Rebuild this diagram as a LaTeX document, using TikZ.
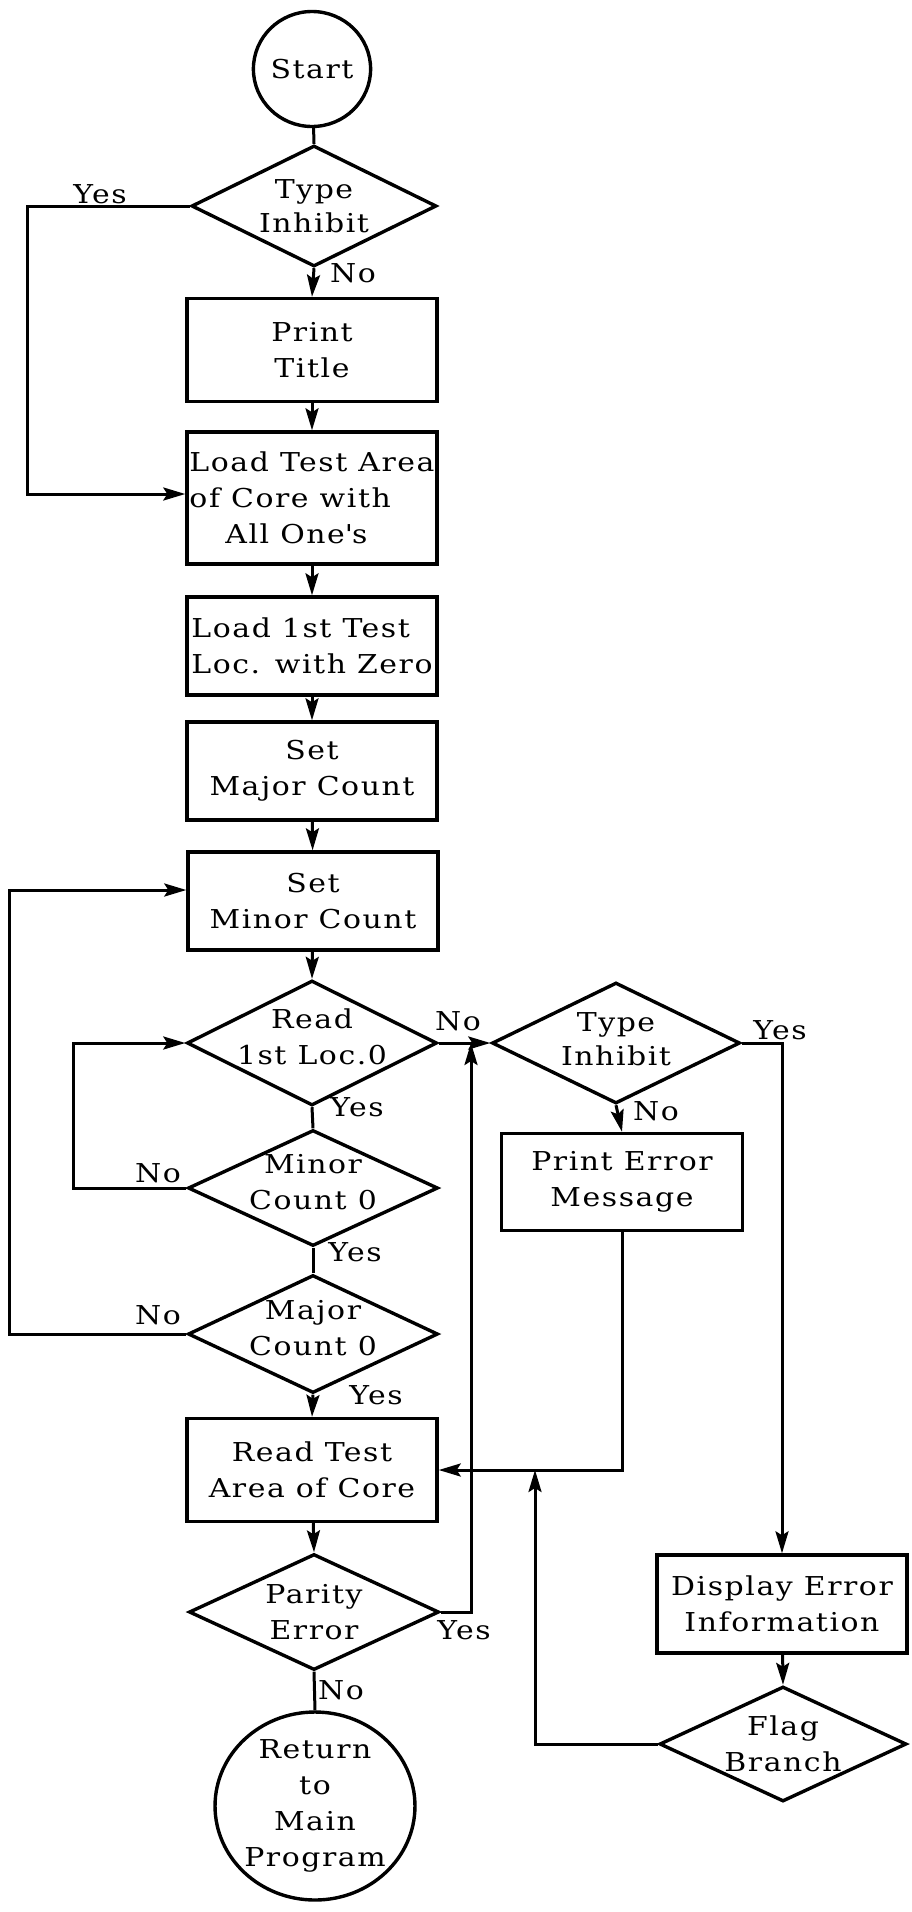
\documentclass[tikz,border=0pt]{standalone}
\usepackage{fontspec}
\setmainfont{DejaVu Serif}[FakeStretch=1.15, LetterSpace=6]
\usetikzlibrary{shapes.geometric, arrows.meta}

\begin{document}
\begin{tikzpicture}[
    x=0.5pt, y=-0.5pt,
    font=\fontsize{13}{18}\selectfont,
    block/.style = { rectangle, draw, line width=1.7pt, minimum width=125pt, minimum height=49pt, inner sep=0pt, align=center },
    decision/.style = { diamond, draw, line width=1.7pt, minimum width=125pt, minimum height=58pt, inner sep=0pt },
    terminal/.style = { ellipse, draw, line width=1.7pt, inner sep=0pt, align=center },
    flow/.style = { line width=1.5pt, -{Stealth[length=11pt, width=6.5pt, inset=2pt]} },
    link/.style = { line width=1.5pt },
    tag/.style = { inner sep=0pt },
    ]

    \useasboundingbox (0,0) rectangle (911,1912);

    % main column
    \node[terminal, minimum width=56.5pt, minimum height=57.5pt] (start) at (312,69) {Start};
    \node[decision, minimum width=122.5pt, minimum height=60.5pt,
        label={[align=center, font=\fontsize{13}{17}\selectfont]center:Type\\Inhibit}] (inh1) at (314,206) {};
    \node[block, minimum height=51.5pt] (title) at (312,350) {Print\\Title};
    \node[block, minimum height=66pt, align=left] (ones) at (312,498)
        {Load Test Area\\of Core with\\\hspace*{18pt}All One\textquotesingle s};
    \node[block, align=left] (zero) at (312,646) {Load 1st Test\\Loc. with Zero};
    \node[block] (major) at (312,771) {Set\\Major Count};
    \node[block] (minor) at (313,901) {Set\\Minor Count};
    \node[decision, minimum height=62.5pt,
        label={[align=center, yshift=3pt]center:Read\\1st Loc.0}] (read) at (312,1043) {};
    \node[decision, minimum height=58pt,
        label={[align=center, yshift=3pt]center:Minor\\Count 0}] (mincnt) at (313,1188) {};
    \node[decision, minimum height=59pt,
        label={[align=center, yshift=3pt]center:Major\\Count 0}] (majcnt) at (313,1334) {};
    \node[block, minimum height=51.5pt] (rtest) at (312,1470) {Read Test\\Area of Core};
    \node[decision,
        label={[align=center]center:Parity\\Error}] (parity) at (314,1612) {};
    \node[terminal, minimum width=97.5pt, minimum height=94pt] (return) at (315,1806)
        {Return\\to\\Main\\Program};

    % error column
    \node[decision, minimum width=124pt, minimum height=60.5pt,
        label={[align=center, yshift=2pt, font=\fontsize{13}{17}\selectfont]center:Type\\Inhibit}] (inh2) at (616,1043) {};
    \node[block, minimum width=120.5pt, minimum height=48.5pt] (perr) at (622,1182) {Print Error\\Message};
    \node[block] (disp) at (782,1604) {Display Error\\Information};
    \node[decision, minimum width=123.5pt, minimum height=57.5pt,
        label={[align=center]center:Flag\\Branch}] (flag) at (783,1744) {};

    % bends
    \coordinate (c1) at (27,494);
    \coordinate (c2) at (73,1043);
    \coordinate (c3) at (9,890);
    \coordinate (c4) at (471,1043);
    \coordinate (c5) at (535,1470);

    \draw[link] (start) -- (inh1.north);
    \draw[flow] (inh1.south) -- (title.north);
    \draw[flow] (inh1.west) -| (c1) -- (ones.west |- c1);
    \draw[flow] (title) -- (ones);
    \draw[flow] (ones) -- (zero);
    \draw[flow] (zero) -- (major);
    \draw[flow] (major) -- (minor);
    \draw[flow] (minor) -- (read.north);
    \draw[link] (read.south) -- (mincnt.north);
    \draw[flow] (mincnt.west) -| (c2) -- (read.west);
    \draw[link] (mincnt.south) -- (majcnt.north);
    \draw[flow] (majcnt.west) -| (c3) -- (minor.west |- c3);
    \draw[flow] (majcnt.south) -- (rtest.north);
    \draw[flow] (rtest) -- (parity.north);
    \draw[link] (parity.south) -- (return.north);
    \draw[flow] (parity.east) -| (c4);
    \draw[flow] (read.east) -- (inh2.west);
    \draw[flow] (inh2.south) -- (perr.north);
    \draw[flow] (inh2.east) -| (disp.north);
    \draw[flow] (perr.south) |- (rtest.east);
    \draw[flow] (disp) -- (flag.north);
    \draw[flow] (flag.west) -| (c5);

    % branch labels
    \node[tag] (yes1) at (100,194) {Yes};
    \node[tag] (no1) at (353,273) {No};
    \node[tag] (yes2) at (357,1107) {Yes};
    \node[tag] (no2) at (158,1173) {No};
    \node[tag] (yes3) at (355,1252) {Yes};
    \node[tag] (no3) at (158,1315) {No};
    \node[tag] (yes4) at (376,1395) {Yes};
    \node[tag] (no4) at (458,1021) {No};
    \node[tag] (yes5) at (464,1630) {Yes};
    \node[tag] (no5) at (341,1690) {No};
    \node[tag] (yes6) at (780,1030) {Yes};
    \node[tag] (no6) at (656,1111) {No};

\end{tikzpicture}
\end{document}
